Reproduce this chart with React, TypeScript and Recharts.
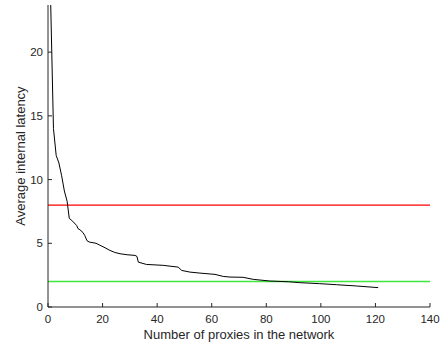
import { LineChart, Line, XAxis, YAxis, ReferenceLine } from 'recharts'

// proxies count vs. average internal latency
const proxies = [1, 2, 3, 4, 5, 6, 7, 7.8, 8.7, 10.5, 11, 11.7, 12.8, 13.5, 14.3, 15.1, 17.6, 19, 20.9, 22.7, 24.5, 26.4, 29, 31.9, 32.6, 33.1, 36.1, 42.2, 47.7, 49, 52, 55.7, 61.2, 64.2, 66.7, 71.5, 75.2, 81.3, 88.2, 92.3, 99.6, 105.7, 113, 121]
const latency = [23.7, 14.0, 11.9, 11.3, 10.3, 9.1, 8.3, 6.95, 6.8, 6.4, 6.15, 6.06, 5.85, 5.6, 5.2, 5.1, 5.0, 4.85, 4.65, 4.44, 4.28, 4.18, 4.1, 4.05, 3.97, 3.52, 3.34, 3.27, 3.13, 2.87, 2.74, 2.66, 2.56, 2.4, 2.35, 2.33, 2.17, 2.04, 1.98, 1.91, 1.83, 1.75, 1.65, 1.52]

const xTicks = [0, 20, 40, 60, 80, 100, 120, 140]
const yTicks = [0, 5, 10, 15, 20]
const redLevel = 8
const greenLevel = 2

const data = proxies.map((p, i) => ({ proxies: p, latency: latency[i] }))

const font = "'Liberation Sans', Arial, Helvetica, sans-serif"
const axisColor = '#262626'

export default function App() {
   return (
      <div style={ { position: 'absolute', left: 0, top: 0, background: '#fff' } }>
         <LineChart width={ 444 } height={ 345 } data={ data } margin={ { top: 5, right: 14, left: 0, bottom: 0 } }>
            <XAxis
               dataKey="proxies"
               type="number"
               domain={ [0, 140] }
               ticks={ xTicks }
               height={ 38 }
               tickSize={ -4 }
               tickMargin={ 12 }
               stroke={ axisColor }
               tick={ { fill: axisColor, fontSize: 11.5, fontFamily: font } }
               label={ { value: 'Number of proxies in the network', position: 'insideBottom', offset: 6, fill: axisColor, fontSize: 13, fontFamily: font } }
            />
            <YAxis
               type="number"
               domain={ [0, 23.7] }
               ticks={ yTicks }
               allowDataOverflow
               width={ 48 }
               tickSize={ -4 }
               tickMargin={ 9 }
               stroke={ axisColor }
               tick={ { fill: axisColor, fontSize: 11.5, fontFamily: font } }
               label={ { value: 'Average internal latency', angle: -90, position: 'center', dx: -4, fill: axisColor, fontSize: 13, fontFamily: font } }
            />
            <ReferenceLine y={ redLevel } stroke="#ff0000" strokeWidth={ 1.3 } />
            <ReferenceLine y={ greenLevel } stroke="#3ee83e" strokeWidth={ 1.6 } />
            <Line
               type="linear"
               dataKey="latency"
               stroke="#000"
               strokeWidth={ 1 }
               dot={ false }
               isAnimationActive={ false }
            />
         </LineChart>
      </div>
   )
}
